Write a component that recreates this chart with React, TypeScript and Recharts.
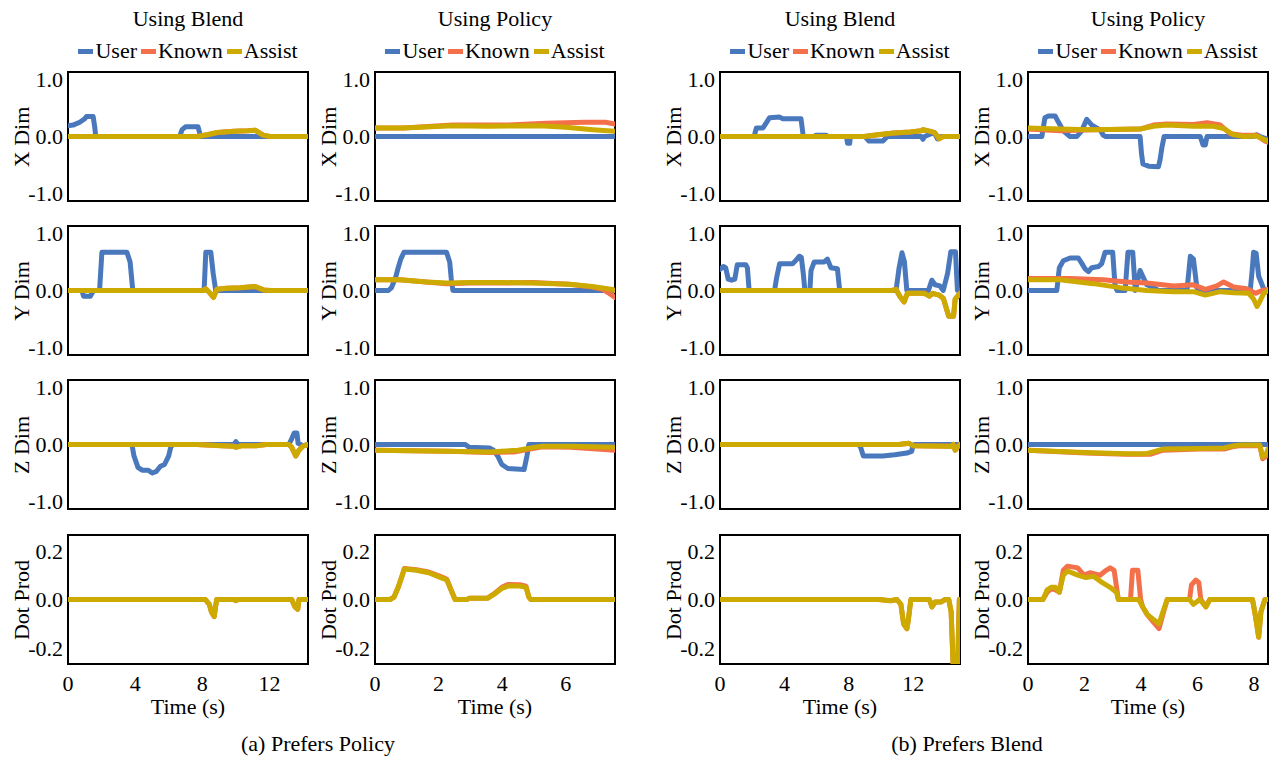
import React from 'react';
import { LineChart, Line, XAxis, YAxis, ReferenceArea } from 'recharts';

type Pt = [number, number];

// ---------- tick labels / categories ----------
const colTitles = ['Using Blend', 'Using Policy', 'Using Blend', 'Using Policy'];
const rowLabels = ['X Dim', 'Y Dim', 'Z Dim', 'Dot Prod'];
const seriesNames = ['User', 'Known', 'Assist'];
const xMaxes = [14.3, 7.55, 14.9, 8.5];
const xTickSets = [[0, 4, 8, 12], [0, 2, 4, 6], [0, 4, 8, 12], [0, 2, 4, 6, 8]];
const dimTicks = [-1, 0, 1];
const dotTicks = [-0.2, 0, 0.2];
const captions = ['(a) Prefers Policy', '(b) Prefers Blend'];

// ---------- data: column 1 (Prefers Policy, Using Blend) ----------
const c1xU: Pt[] = [[0, 0.19], [0.3, 0.2], [0.7, 0.25], [1.0, 0.31], [1.1, 0.35], [1.5, 0.35], [1.6, 0.15], [1.65, 0], [6.65, 0], [6.8, 0.12], [7.0, 0.17], [7.75, 0.17], [7.9, 0], [14.3, 0]];
const c1xK: Pt[] = [[0, 0], [7.7, 0], [8.3, 0.03], [8.9, 0.07], [9.9, 0.09], [10.7, 0.1], [11.15, 0.11], [11.65, 0.02], [12.05, 0], [14.3, 0]];
const c1xA: Pt[] = [[0, 0], [7.7, 0], [8.3, 0.03], [8.9, 0.07], [9.9, 0.09], [10.7, 0.1], [11.15, 0.11], [11.65, 0.02], [12.05, 0], [14.3, 0]];
const c1yU: Pt[] = [[0, 0], [0.83, 0], [0.93, -0.1], [1.33, -0.1], [1.52, 0], [1.88, 0], [2.02, 0.67], [3.51, 0.67], [3.7, 0.5], [3.86, 0], [8.11, 0], [8.21, 0.67], [8.51, 0.67], [8.65, 0.3], [8.8, 0], [14.3, 0]];
const c1yK: Pt[] = [[0, 0], [8.07, 0], [8.2, 0.03], [8.47, -0.05], [8.67, -0.12], [8.87, 0.02], [9.46, 0.04], [10.26, 0.05], [11.15, 0.07], [11.65, 0.01], [12.05, 0], [14.3, 0]];
const c1yA: Pt[] = [[0, 0], [8.07, 0], [8.2, 0.03], [8.47, -0.05], [8.67, -0.12], [8.87, 0.02], [9.46, 0.04], [10.26, 0.05], [11.15, 0.07], [11.65, 0.01], [12.05, 0], [14.3, 0]];
const c1zU: Pt[] = [[0, 0], [3.81, 0], [3.93, -0.2], [4.17, -0.4], [4.42, -0.45], [4.78, -0.45], [5.02, -0.5], [5.27, -0.47], [5.51, -0.38], [5.75, -0.35], [6.0, -0.2], [6.12, -0.05], [6.24, 0], [9.88, 0], [10.0, 0.05], [10.12, 0], [13.16, 0], [13.33, 0.1], [13.47, 0.2], [13.64, 0.2], [13.71, 0.02], [14.0, -0.02], [14.3, 0]];
const c1zK: Pt[] = [[0, 0], [7.7, 0], [9.15, -0.02], [9.88, -0.03], [10.0, -0.05], [10.36, -0.02], [11.2, -0.02], [11.8, 0], [13.16, 0], [13.33, -0.05], [13.57, -0.2], [13.76, -0.1], [14.0, -0.03], [14.3, 0]];
const c1zA: Pt[] = [[0, 0], [7.7, 0], [9.15, -0.02], [9.88, -0.03], [10.0, -0.05], [10.36, -0.02], [11.2, -0.02], [11.8, 0], [13.16, 0], [13.33, -0.05], [13.57, -0.2], [13.76, -0.1], [14.0, -0.03], [14.3, 0]];
const c1dK: Pt[] = [[0, 0], [8.18, 0], [8.42, -0.02], [8.54, -0.05], [8.71, -0.07], [8.79, -0.03], [8.86, 0], [9.88, 0], [10.0, -0.005], [10.12, 0], [13.33, 0], [13.52, -0.03], [13.69, -0.04], [13.76, 0], [14.3, 0]];
const c1dA: Pt[] = [[0, 0], [8.18, 0], [8.42, -0.02], [8.54, -0.05], [8.71, -0.07], [8.79, -0.03], [8.86, 0], [9.88, 0], [10.0, -0.005], [10.12, 0], [13.33, 0], [13.52, -0.03], [13.69, -0.04], [13.76, 0], [14.3, 0]];

// ---------- data: column 2 (Prefers Policy, Using Policy) ----------
const c2xU: Pt[] = [[0, 0], [7.55, 0]];
const c2xK: Pt[] = [[0, 0.15], [0.9, 0.15], [2.45, 0.2], [4.1, 0.2], [5.4, 0.23], [6.6, 0.25], [7.25, 0.25], [7.55, 0.22]];
const c2xA: Pt[] = [[0, 0.15], [0.9, 0.15], [2.45, 0.19], [3.5, 0.18], [5.2, 0.19], [6.0, 0.16], [6.85, 0.12], [7.55, 0.09]];
const c2yU: Pt[] = [[0, 0], [0.42, 0], [0.52, 0.05], [0.66, 0.25], [0.73, 0.4], [0.81, 0.55], [0.91, 0.67], [2.25, 0.67], [2.35, 0.5], [2.4, 0.2], [2.45, 0], [7.55, 0]];
const c2yK: Pt[] = [[0, 0.19], [0.78, 0.19], [1.62, 0.15], [2.25, 0.12], [2.98, 0.13], [4.02, 0.13], [4.96, 0.14], [6.11, 0.11], [6.84, 0.06], [7.16, 0.02], [7.37, -0.05], [7.55, -0.12]];
const c2yA: Pt[] = [[0, 0.19], [0.78, 0.19], [1.62, 0.15], [2.25, 0.13], [2.98, 0.14], [4.02, 0.14], [4.96, 0.13], [6.11, 0.11], [6.84, 0.07], [7.47, 0.02], [7.55, 0]];
const c2zU: Pt[] = [[0, 0], [2.84, 0], [2.96, -0.05], [3.6, -0.06], [3.73, -0.1], [3.86, -0.2], [3.99, -0.35], [4.18, -0.42], [4.69, -0.44], [4.78, -0.2], [4.84, 0], [7.55, 0]];
const c2zK: Pt[] = [[0, -0.1], [2.33, -0.12], [3.6, -0.14], [4.37, -0.13], [4.88, -0.08], [5.27, -0.04], [6.16, -0.05], [7.55, -0.1]];
const c2zA: Pt[] = [[0, -0.1], [2.33, -0.12], [3.6, -0.13], [4.5, -0.1], [5.0, -0.05], [5.27, -0.03], [6.16, -0.03], [7.55, -0.05]];
const c2dK: Pt[] = [[0, 0], [0.47, 0], [0.6, 0.01], [0.73, 0.05], [0.86, 0.1], [0.92, 0.127], [1.3, 0.122], [1.69, 0.113], [2.07, 0.094], [2.26, 0.083], [2.39, 0.04], [2.52, 0], [2.9, 0], [2.96, 0.005], [3.54, 0.006], [3.73, 0.022], [3.99, 0.05], [4.18, 0.062], [4.56, 0.061], [4.75, 0.055], [4.84, 0.01], [4.9, 0], [7.55, 0]];
const c2dA: Pt[] = [[0, 0], [0.47, 0], [0.6, 0.01], [0.73, 0.05], [0.86, 0.1], [0.92, 0.125], [1.3, 0.12], [1.69, 0.11], [2.07, 0.09], [2.26, 0.08], [2.39, 0.04], [2.52, 0], [2.9, 0], [2.96, 0.005], [3.54, 0.005], [3.73, 0.02], [3.99, 0.045], [4.18, 0.055], [4.56, 0.055], [4.75, 0.05], [4.84, 0.01], [4.9, 0], [7.55, 0]];

// ---------- data: column 3 (Prefers Blend, Using Blend) ----------
const c3xU: Pt[] = [[0, 0], [2.12, 0], [2.26, 0.15], [2.67, 0.15], [2.83, 0.22], [3.08, 0.33], [3.7, 0.34], [3.9, 0.31], [5.03, 0.31], [5.17, 0], [5.85, 0], [5.95, 0.02], [6.6, 0.02], [6.7, 0], [7.85, 0], [7.92, -0.12], [8.05, -0.12], [8.1, 0], [9.0, 0], [9.25, -0.08], [10.1, -0.08], [10.4, 0], [12.5, 0], [12.6, -0.05], [12.7, 0], [13.3, 0.07], [13.5, -0.04], [13.7, 0], [14.9, 0]];
const c3xK: Pt[] = [[0, 0], [8.95, 0], [9.8, 0.03], [10.8, 0.06], [11.8, 0.08], [12.5, 0.1], [12.6, 0.12], [13.2, 0.08], [13.35, 0.06], [13.6, -0.04], [13.85, 0], [14.9, 0]];
const c3xA: Pt[] = [[0, 0], [8.95, 0], [9.8, 0.03], [10.8, 0.06], [11.8, 0.08], [12.5, 0.1], [12.6, 0.12], [13.2, 0.08], [13.35, 0.06], [13.6, -0.04], [13.85, 0], [14.9, 0]];
const c3yU: Pt[] = [[0, 0.37], [0.21, 0.42], [0.35, 0.4], [0.51, 0.2], [0.72, 0.18], [0.92, 0.2], [1.07, 0.45], [1.6, 0.45], [1.7, 0.4], [1.81, 0], [3.39, 0], [3.5, 0.2], [3.7, 0.47], [4.52, 0.47], [4.68, 0.52], [4.93, 0.6], [5.05, 0.58], [5.17, 0.3], [5.27, 0], [5.58, 0], [5.65, 0.35], [5.85, 0.5], [6.47, 0.5], [6.67, 0.55], [6.88, 0.4], [7.29, 0.38], [7.43, 0], [10.93, 0], [11.12, 0.4], [11.3, 0.66], [11.45, 0.5], [11.6, 0], [12.94, 0], [13.15, 0.18], [13.35, 0.1], [13.65, 0.08], [13.86, 0], [14.13, 0.3], [14.33, 0.68], [14.62, 0.68], [14.74, 0], [14.9, 0]];
const c3yK: Pt[] = [[0, 0], [10.68, 0], [10.93, 0.02], [11.16, -0.1], [11.43, -0.2], [11.63, -0.05], [12.7, -0.05], [13.0, -0.1], [13.2, -0.05], [13.6, -0.08], [13.87, -0.14], [14.2, -0.45], [14.5, -0.45], [14.6, -0.15], [14.9, -0.05]];
const c3yA: Pt[] = [[0, 0], [10.68, 0], [10.93, 0.02], [11.16, -0.1], [11.43, -0.2], [11.63, -0.05], [12.7, -0.05], [13.0, -0.1], [13.2, -0.05], [13.6, -0.08], [13.87, -0.14], [14.2, -0.45], [14.5, -0.45], [14.6, -0.15], [14.9, -0.05]];
const c3zU: Pt[] = [[0, 0], [8.6, 0], [8.73, -0.05], [8.9, -0.2], [10.1, -0.2], [10.85, -0.18], [11.6, -0.15], [11.9, -0.12], [11.98, -0.02], [12.1, 0], [14.9, 0]];
const c3zK: Pt[] = [[0, 0], [11.1, 0], [11.73, 0.02], [11.98, -0.02], [14.36, -0.03], [14.48, 0], [14.6, -0.1], [14.73, -0.05], [14.9, 0]];
const c3zA: Pt[] = [[0, 0], [11.1, 0], [11.73, 0.02], [11.98, -0.02], [14.36, -0.03], [14.48, 0], [14.6, -0.1], [14.73, -0.05], [14.9, 0]];
const c3dK: Pt[] = [[0, 0], [9.85, 0], [10.6, -0.005], [10.98, 0], [11.23, -0.02], [11.4, -0.1], [11.6, -0.12], [11.68, -0.09], [11.85, 0], [13.0, 0], [13.16, -0.03], [13.36, -0.01], [13.73, -0.01], [13.98, 0], [14.2, 0], [14.35, -0.05], [14.49, -0.3], [14.74, -0.3], [14.86, 0], [14.9, 0]];
const c3dA: Pt[] = [[0, 0], [9.85, 0], [10.6, -0.005], [10.98, 0], [11.23, -0.02], [11.4, -0.1], [11.6, -0.12], [11.68, -0.09], [11.85, 0], [13.0, 0], [13.16, -0.03], [13.36, -0.01], [13.73, -0.01], [13.98, 0], [14.2, 0], [14.35, -0.05], [14.49, -0.3], [14.74, -0.3], [14.86, 0], [14.9, 0]];

// ---------- data: column 4 (Prefers Blend, Using Policy) ----------
const c4xU: Pt[] = [[0, 0], [0.49, 0], [0.6, 0.33], [0.72, 0.36], [0.96, 0.36], [1.08, 0.25], [1.25, 0.1], [1.49, 0], [1.73, 0], [1.9, 0.1], [2.08, 0.3], [2.26, 0.2], [2.43, 0.15], [2.55, 0.12], [2.67, 0.02], [2.75, 0], [3.97, 0], [4.02, -0.3], [4.07, -0.48], [4.27, -0.52], [4.62, -0.53], [4.68, -0.4], [4.74, -0.2], [4.82, 0], [6.1, 0], [6.2, -0.15], [6.28, -0.15], [6.34, 0], [7.99, 0], [8.1, 0.03], [8.22, 0], [8.5, -0.05]];
const c4xK: Pt[] = [[0, 0.13], [1.13, 0.1], [2.31, 0.12], [3.97, 0.13], [4.44, 0.2], [4.92, 0.22], [5.86, 0.21], [6.34, 0.24], [6.81, 0.2], [7.16, 0.05], [7.64, 0.02], [8.1, 0.02], [8.4, -0.08], [8.5, -0.1]];
const c4xA: Pt[] = [[0, 0.15], [1.13, 0.13], [2.31, 0.12], [3.97, 0.13], [4.44, 0.18], [4.92, 0.2], [5.86, 0.18], [6.57, 0.18], [6.93, 0.14], [7.28, 0.03], [7.64, 0], [8.1, 0.01], [8.4, -0.06], [8.5, -0.08]];
const c4yU: Pt[] = [[0, 0], [1.02, 0], [1.11, 0.4], [1.25, 0.52], [1.49, 0.57], [1.78, 0.57], [1.9, 0.48], [2.02, 0.38], [2.14, 0.33], [2.26, 0.4], [2.5, 0.42], [2.61, 0.47], [2.73, 0.67], [3.0, 0.67], [3.08, 0.1], [3.15, 0], [3.44, 0], [3.54, 0.67], [3.71, 0.67], [3.8, 0], [3.97, 0.35], [4.11, 0.2], [4.21, 0.1], [4.45, 0.05], [4.62, 0], [5.63, 0], [5.75, 0.6], [5.86, 0.55], [5.98, 0.05], [6.1, 0], [7.87, 0], [7.93, 0.3], [7.99, 0.67], [8.08, 0.65], [8.17, 0.25], [8.29, 0.1], [8.37, 0], [8.5, 0]];
const c4yK: Pt[] = [[0, 0.21], [1.49, 0.21], [2.67, 0.19], [3.5, 0.15], [4.21, 0.13], [5.16, 0.08], [5.86, 0.1], [6.28, 0.02], [6.69, 0.08], [6.93, 0.15], [7.28, 0.06], [7.75, 0.03], [7.87, 0], [8.05, -0.05], [8.29, 0], [8.5, 0.02]];
const c4yA: Pt[] = [[0, 0.19], [1.13, 0.19], [2.31, 0.12], [3.26, 0.05], [4.21, 0], [5.16, -0.02], [5.86, -0.02], [6.28, -0.08], [6.81, -0.02], [7.28, -0.04], [7.82, -0.05], [7.99, -0.15], [8.11, -0.28], [8.2, -0.2], [8.35, -0.05], [8.5, 0]];
const c4zU: Pt[] = [[0, 0], [8.5, 0]];
const c4zK: Pt[] = [[0, -0.1], [2.05, -0.15], [3.49, -0.17], [4.35, -0.17], [4.78, -0.1], [6.08, -0.08], [6.95, -0.08], [7.23, -0.04], [7.52, -0.02], [8.21, -0.02], [8.31, -0.25], [8.45, -0.2], [8.5, -0.12]];
const c4zA: Pt[] = [[0, -0.1], [2.05, -0.14], [3.49, -0.16], [4.2, -0.16], [4.78, -0.08], [6.08, -0.07], [6.95, -0.06], [7.3, -0.02], [7.52, -0.01], [8.21, -0.01], [8.31, -0.22], [8.45, -0.15], [8.5, -0.08]];
const c4dK: Pt[] = [[0, 0], [0.53, 0], [0.68, 0.03], [0.82, 0.045], [0.97, 0.04], [1.11, 0.03], [1.25, 0.12], [1.4, 0.137], [1.76, 0.13], [1.98, 0.1], [2.19, 0.11], [2.55, 0.1], [2.77, 0.12], [2.91, 0.13], [3.05, 0.12], [3.2, 0], [3.63, 0], [3.7, 0.12], [3.89, 0.12], [3.99, 0], [4.06, -0.03], [4.21, -0.06], [4.42, -0.09], [4.64, -0.12], [4.78, -0.06], [4.93, 0], [5.72, 0], [5.79, 0.06], [5.94, 0.08], [6.05, 0.07], [6.12, 0], [6.3, -0.03], [6.44, 0], [7.95, 0], [8.03, -0.05], [8.17, -0.155], [8.25, -0.05], [8.39, 0], [8.5, 0]];
const c4dA: Pt[] = [[0, 0], [0.53, 0], [0.68, 0.04], [0.82, 0.05], [0.97, 0.05], [1.11, 0.03], [1.25, 0.1], [1.4, 0.117], [1.76, 0.1], [2.05, 0.09], [2.33, 0.095], [2.62, 0.07], [2.91, 0.05], [3.13, 0.03], [3.2, 0], [3.92, 0], [4.06, -0.03], [4.21, -0.06], [4.42, -0.08], [4.64, -0.1], [4.78, -0.05], [4.93, 0], [5.72, 0], [5.86, -0.02], [6.08, 0], [6.3, -0.03], [6.44, 0], [7.95, 0], [8.03, -0.05], [8.17, -0.155], [8.25, -0.05], [8.39, 0], [8.5, 0]];

// panels[row][col] = [User, Known, Assist]
const panels: (Pt[] | null)[][][] = [
  [[c1xU, c1xK, c1xA], [c2xU, c2xK, c2xA], [c3xU, c3xK, c3xA], [c4xU, c4xK, c4xA]],
  [[c1yU, c1yK, c1yA], [c2yU, c2yK, c2yA], [c3yU, c3yK, c3yA], [c4yU, c4yK, c4yA]],
  [[c1zU, c1zK, c1zA], [c2zU, c2zK, c2zA], [c3zU, c3zK, c3zA], [c4zU, c4zK, c4zA]],
  [[null, c1dK, c1dA], [null, c2dK, c2dA], [null, c3dK, c3dA], [null, c4dK, c4dA]],
];

// ---------- layout / style ----------
const FONT = '"Liberation Serif", "Times New Roman", serif';
const FS = 22;
const COLORS = ['#4a78bd', '#f4704a', '#cdaa00'];
const colLefts = [68, 375, 720, 1028];
const rowTops = [72, 226, 380, 535];
const PW = 240;
const PH = 129;
const YW = 60;

function Panel({ row, col }: { row: number; col: number }) {
  const bottom = row === 3;
  const xMax = xMaxes[col];
  const yMin = bottom ? -0.265 : -1.13;
  const yMax = bottom ? 0.265 : 1.13;
  const W = YW + PW + 5;
  const H = 5 + PH + (bottom ? 40 : 5);
  const series = panels[row][col];
  const tickStyle = { fill: '#000', fontSize: FS, fontFamily: FONT, style: { fontFamily: FONT } };
  return (
    <div style={{ position: 'absolute', left: colLefts[col] - YW, top: rowTops[row] - 5 }}>
      <LineChart width={W} height={H} margin={{ top: 5, right: 5, bottom: bottom ? 0 : 5, left: 0 }} style={{ fontFamily: FONT }}>
        <XAxis
          type="number"
          dataKey="t"
          domain={[0, xMax]}
          ticks={xTickSets[col]}
          interval={0}
          hide={!bottom}
          height={bottom ? 40 : 0}
          tickLine={false}
          axisLine={false}
          tickSize={0}
          tickMargin={11}
          allowDataOverflow
          tick={tickStyle}
        />
        <YAxis
          type="number"
          dataKey="v"
          domain={[yMin, yMax]}
          ticks={bottom ? dotTicks : dimTicks}
          interval={0}
          width={YW}
          tickLine={false}
          axisLine={false}
          tickSize={0}
          tickMargin={5}
          allowDataOverflow
          tickFormatter={(v: number) => v.toFixed(1)}
          tick={tickStyle}
        />
        {series.map((s, i) =>
          s ? (
            <Line
              key={seriesNames[i]}
              name={seriesNames[i]}
              data={s.map(([t, v]) => ({ t, v }))}
              dataKey="v"
              type="linear"
              stroke={COLORS[i]}
              strokeWidth={5}
              strokeLinejoin="round"
              strokeLinecap="round"
              dot={false}
              activeDot={false}
              isAnimationActive={false}
            />
          ) : null
        )}
        <ReferenceArea x1={0} x2={xMax} y1={yMin} y2={yMax} fill="none" fillOpacity={0} stroke="#000" strokeWidth={2} ifOverflow="visible" />
      </LineChart>
    </div>
  );
}

function TextAt({ cx, top, children }: { cx: number; top: number; children: React.ReactNode }) {
  return (
    <div style={{ position: 'absolute', left: cx - 200, top, width: 400, textAlign: 'center', fontSize: FS, lineHeight: '26px', whiteSpace: 'nowrap' }}>
      {children}
    </div>
  );
}

function Legend({ cx }: { cx: number }) {
  return (
    <div style={{ position: 'absolute', left: cx - 200, top: 38, width: 400, height: 26, display: 'flex', justifyContent: 'center', alignItems: 'center', fontSize: FS, lineHeight: '26px', whiteSpace: 'nowrap' }}>
      {seriesNames.map((n, i) => (
        <span key={n} style={{ display: 'inline-flex', alignItems: 'center', marginRight: i < 2 ? 4 : 0 }}>
          <span style={{ display: 'inline-block', width: 15, height: 5, background: COLORS[i], marginRight: 2 }} />
          <span>{n}</span>
        </span>
      ))}
    </div>
  );
}

function RotLabel({ cx, cy, text }: { cx: number; cy: number; text: string }) {
  return (
    <div style={{ position: 'absolute', left: cx - 70, top: cy - 13, width: 140, height: 26, lineHeight: '26px', textAlign: 'center', fontSize: FS, transform: 'rotate(-90deg)', whiteSpace: 'nowrap' }}>
      {text}
    </div>
  );
}

export default function App() {
  return (
    <div style={{ position: 'absolute', left: 0, top: 0, width: 1273, height: 757, background: '#fff', fontFamily: FONT, color: '#000', overflow: 'hidden' }}>
      {colTitles.map((t, c) => (
        <React.Fragment key={'h' + c}>
          <TextAt cx={colLefts[c] + PW / 2} top={6}>{t}</TextAt>
          <Legend cx={colLefts[c] + PW / 2} />
          <TextAt cx={colLefts[c] + PW / 2} top={694}>Time (s)</TextAt>
        </React.Fragment>
      ))}
      {rowLabels.map((lab, r) =>
        colLefts.map((l, c) => <RotLabel key={'l' + r + c} cx={l - 46} cy={rowTops[r] + PH / 2} text={lab} />)
      )}
      {rowTops.map((_, r) => colLefts.map((__, c) => <Panel key={'p' + r + c} row={r} col={c} />))}
      <TextAt cx={318} top={731}>{captions[0]}</TextAt>
      <TextAt cx={967} top={731}>{captions[1]}</TextAt>
    </div>
  );
}
